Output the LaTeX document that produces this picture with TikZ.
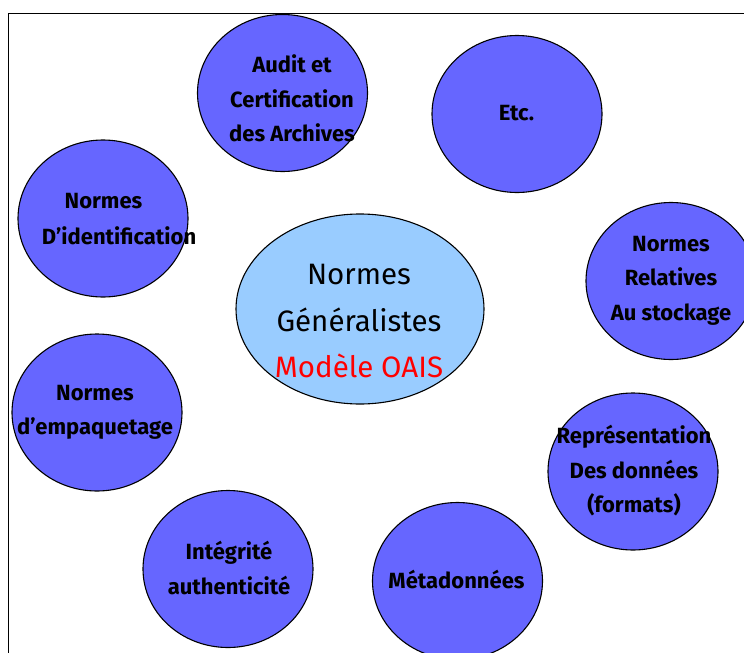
\documentclass[tikz,border=0pt]{standalone}
\usepackage{fontspec}
\setmainfont{Fira Sans}
\usetikzlibrary{shapes.geometric}
\definecolor{bubble}{HTML}{6666FF}
\definecolor{core}{HTML}{99CCFF}
\definecolor{oaisred}{HTML}{FF0000}
\tikzset{
  bubble/.style={ellipse, draw=black, line width=1.1pt, fill=bubble, minimum width=170pt, minimum height=157pt, inner sep=0pt},
  coreball/.style={ellipse, draw=black, line width=1.1pt, fill=core, minimum width=248pt, minimum height=190pt, inner sep=0pt},
  smalltxt/.style={align=center, font=\fontsize{22}{34.5}\selectfont\bfseries, text=black, inner sep=0pt},
  bigtxt/.style={align=center, font=\fontsize{29.5}{46.5}\selectfont, text=black, inner sep=0pt},
  framepath/.style={draw=black, line width=0.9pt}
}
\begin{document}
\begin{tikzpicture}[x=1pt,y=-1pt]
\useasboundingbox (0,0) rectangle (744,653);
\clip (0,0) rectangle (744,653);
\coordinate (fbl) at (8,660);
\coordinate (ftl) at (8,13);
\coordinate (ftr) at (750,13);
\draw[framepath] (fbl) -- (ftl) -- (ftr);
% bubbles
\node[bubble] (audit) at (282.5,93) {};
\node[bubble] (etc) at (517,114) {};
\node[bubble] (ident) at (103,218.5) {};
\node[bubble] (stock) at (671,281) {};
\node[coreball] (core) at (360,309) {};
\node[bubble] (emp) at (97,412.5) {};
\node[bubble] (repr) at (633,471.5) {};
\node[bubble] (integ) at (228,569) {};
\node[bubble] (meta) at (457.5,581) {};
% texts
\node[smalltxt] (tAudit) at (292,98.5) {Audit et\\Certification\\des Archives};
\node[smalltxt] (tEtc) at (516.5,113) {Etc.};
\node[smalltxt] (tIdentA) at (103.5,201) {Normes};
\node[smalltxt] (tIdentB) at (119,236) {D’identification};
\node[smalltxt] (tStock) at (671,280.5) {Normes\\Relatives\\Au stockage};
\node[bigtxt] (tCore) at (359,321.5) {Normes\\Généralistes\\\textcolor{oaisred}{Modèle OAIS}};
\node[smalltxt] (tEmp) at (95,412.5) {Normes\\d’empaquetage};
\node[smalltxt] (tRepr) at (634,471) {Représentation\\Des données\\(formats)};
\node[smalltxt] (tInteg) at (229,568) {Intégrité\\authenticité};
\node[smalltxt] (tMeta) at (456.5,579) {Métadonnées};
\end{tikzpicture}
\end{document}
